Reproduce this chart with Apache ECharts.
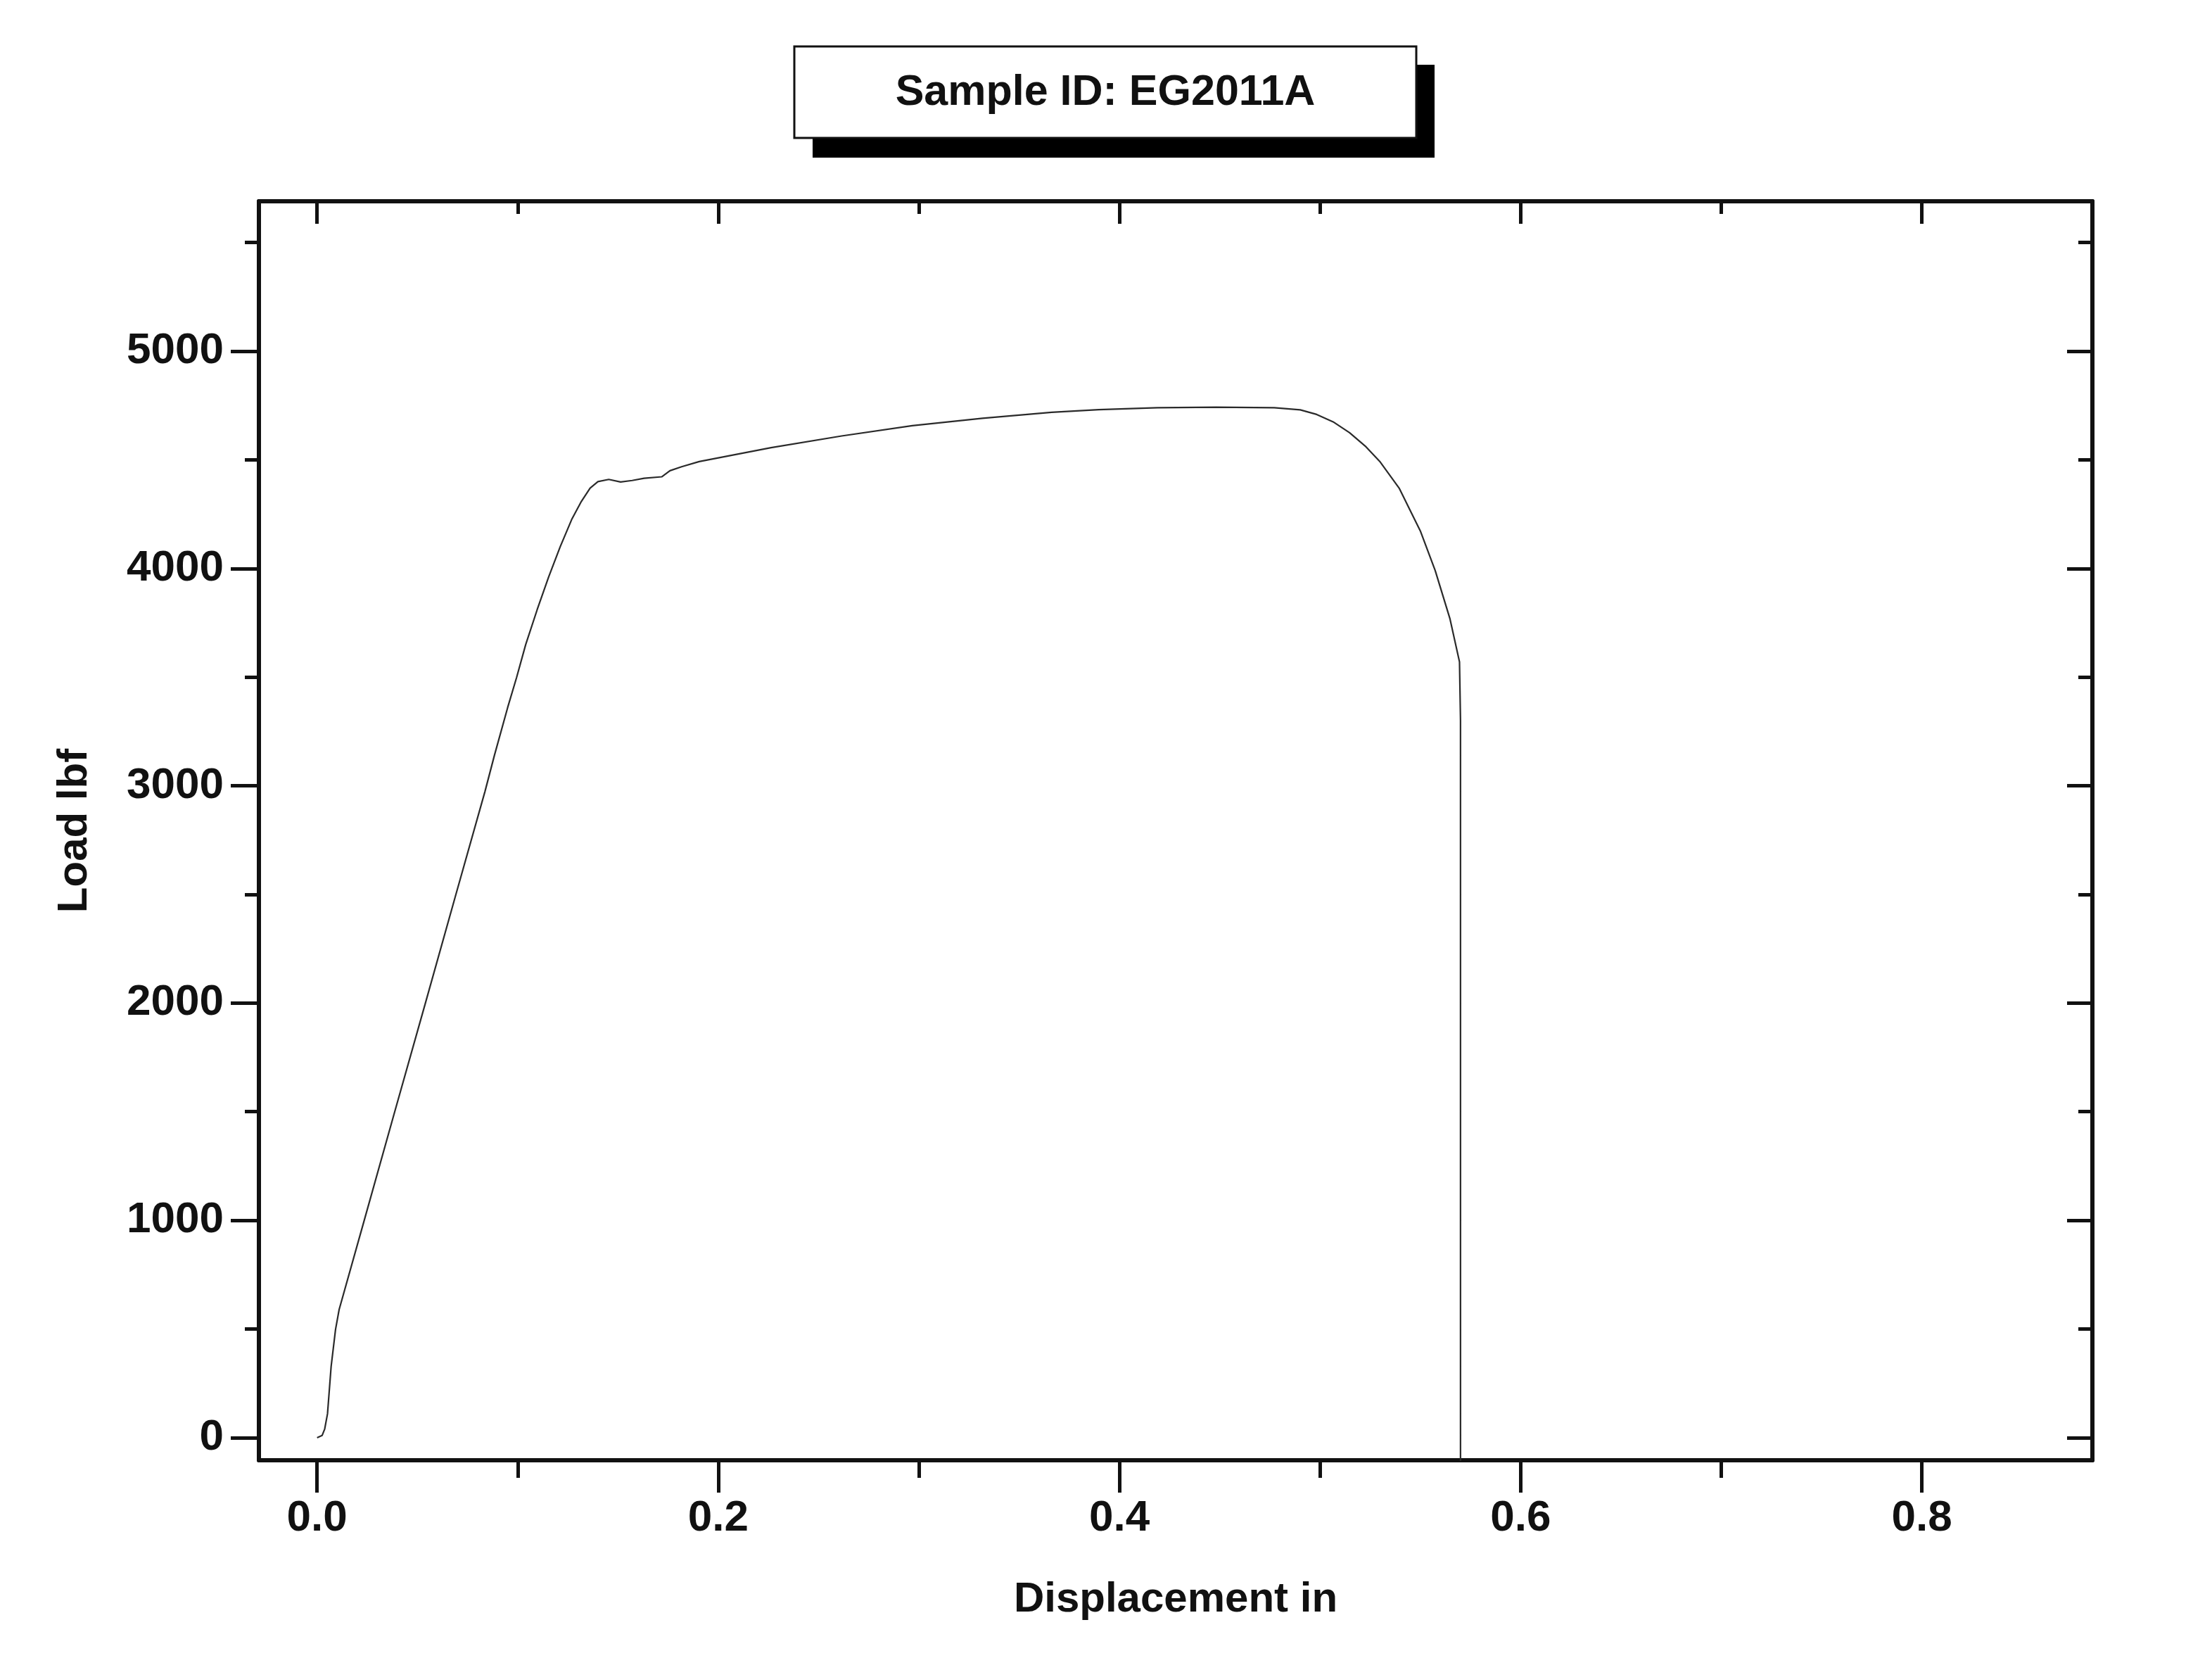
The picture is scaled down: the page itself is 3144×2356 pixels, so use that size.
<!DOCTYPE html>
<html>
<head>
<meta charset="utf-8">
<script src="https://cdn.jsdelivr.net/npm/echarts@6/dist/echarts.min.js"></script>
<style>
  html, body { margin: 0; padding: 0; background: #ffffff; }
  #chart { width: 3144px; height: 2356px; }
</style>
</head>
<body>
<div id="chart"></div>
<script>
// ---- data ----
const titleText = 'Sample ID: EG2011A';
const xName = 'Displacement in';
const yName = 'Load lbf';

const displacement = [
  0.0000, 0.0025, 0.0038, 0.0052, 0.0070, 0.0092, 0.0110, 0.0235, 0.0387, 0.0540,
  0.0692, 0.0837, 0.0884, 0.0950, 0.0995, 0.1040, 0.1097, 0.1154,
  0.1212, 0.1269, 0.1315, 0.1361, 0.1400, 0.1454, 0.1513, 0.1571, 0.1630, 0.1718,
  0.1759, 0.1817, 0.1905, 0.2263, 0.2615, 0.2967, 0.3317, 0.3662, 0.3896, 0.4189,
  0.4481, 0.4772, 0.4901, 0.4983, 0.5065, 0.5147, 0.5229, 0.5300, 0.5394, 0.5501,
  0.5574, 0.5647, 0.5695, 0.5700, 0.5700
];
const load = [
  0, 10, 40, 110, 327, 498, 590, 1000, 1500, 2000,
  2500, 2974, 3140, 3360, 3500, 3650, 3810, 3960,
  4100, 4225, 4305, 4370, 4400, 4410, 4398, 4405, 4415, 4422,
  4450, 4468, 4492, 4556, 4610, 4657, 4691, 4719, 4731, 4740,
  4742, 4740, 4730, 4709, 4675, 4625, 4560, 4490, 4370, 4170,
  3990, 3770, 3570, 3300, -200
];

const xMajorTicks = [0, 0.2, 0.4, 0.6, 0.8];
const xMinorTicks = [0.1, 0.3, 0.5, 0.7];
const yMajorTicks = [0, 1000, 2000, 3000, 4000, 5000];
const yMinorTicks = [500, 1500, 2500, 3500, 4500, 5500];

const xMin = -0.029, xMax = 0.885;
const yMin = -104, yMax = 5690;

// ---- chart ----
const FONT = '"Liberation Sans", Arial, Helvetica, sans-serif';
const INK = '#111111';
const chart = echarts.init(document.getElementById('chart'), null, { renderer: 'canvas' });

function axisBase(min, max, opts) {
  return Object.assign({
    type: 'value', min: min, max: max, gridIndex: 0,
    splitLine: { show: false },
    axisLine: { show: false, onZero: false },
    axisLabel: { show: false },
    axisTick: { show: false }
  }, opts);
}
const xAxisDef = o => axisBase(xMin, xMax, o);
const yAxisDef = o => axisBase(yMin, yMax, o);
const axisLineStyle = { color: INK, width: 6 };
const tickStyle = { color: INK, width: 5 };

const option = {
  backgroundColor: '#ffffff',
  animation: false,
  grid: { left: 368, right: 170, top: 286, bottom: 281, containLabel: false },
  graphic: [
    { type: 'rect', shape: { x: 1155, y: 92, width: 884, height: 132 }, style: { fill: '#000000' }, z: 100 },
    { type: 'rect', shape: { x: 1129, y: 66, width: 884, height: 130 }, style: { fill: '#ffffff', stroke: INK, lineWidth: 3 }, z: 101 },
    { type: 'text', x: 1571, y: 132, z: 102,
      style: { text: titleText, fill: INK, font: 'bold 61px ' + FONT, align: 'center', verticalAlign: 'middle' } }
  ],
  xAxis: [
    xAxisDef({
      position: 'bottom',
      axisLine: { show: true, onZero: false, lineStyle: axisLineStyle },
      axisTick: { show: true, inside: false, length: 46, customValues: xMajorTicks, lineStyle: tickStyle },
      axisLabel: { show: true, customValues: xMajorTicks, margin: 52, color: INK,
        fontFamily: FONT, fontWeight: 'bold', fontSize: 62,
        formatter: v => Number(v).toFixed(1) },
      name: xName, nameLocation: 'middle', nameGap: 168,
      nameTextStyle: { color: INK, fontFamily: FONT, fontWeight: 'bold', fontSize: 60 }
    }),
    xAxisDef({
      position: 'bottom',
      axisTick: { show: true, inside: false, length: 25, customValues: xMinorTicks, lineStyle: tickStyle }
    }),
    xAxisDef({
      position: 'top',
      axisLine: { show: true, onZero: false, lineStyle: axisLineStyle },
      axisTick: { show: true, inside: true, length: 32, customValues: xMajorTicks, lineStyle: tickStyle }
    }),
    xAxisDef({
      position: 'top',
      axisTick: { show: true, inside: true, length: 18, customValues: xMinorTicks, lineStyle: tickStyle }
    })
  ],
  yAxis: [
    yAxisDef({
      position: 'left',
      axisLine: { show: true, onZero: false, lineStyle: axisLineStyle },
      axisTick: { show: true, inside: false, length: 40, customValues: yMajorTicks, lineStyle: tickStyle },
      axisLabel: { show: true, customValues: yMajorTicks, margin: 50, color: INK,
        fontFamily: FONT, fontWeight: 'bold', fontSize: 62,
        formatter: v => String(Math.round(v)) },
      name: yName, nameLocation: 'middle', nameGap: 232, nameRotate: 90,
      nameTextStyle: { color: INK, fontFamily: FONT, fontWeight: 'bold', fontSize: 60 }
    }),
    yAxisDef({
      position: 'left',
      axisTick: { show: true, inside: false, length: 20, customValues: yMinorTicks, lineStyle: tickStyle }
    }),
    yAxisDef({
      position: 'right',
      axisLine: { show: true, onZero: false, lineStyle: axisLineStyle },
      axisTick: { show: true, inside: true, length: 36, customValues: yMajorTicks, lineStyle: tickStyle }
    }),
    yAxisDef({
      position: 'right',
      axisTick: { show: true, inside: true, length: 20, customValues: yMinorTicks, lineStyle: tickStyle }
    })
  ],
  series: [{
    type: 'line',
    xAxisIndex: 0, yAxisIndex: 0,
    data: displacement.map((x, i) => [x, load[i]]),
    showSymbol: false,
    symbol: 'none',
    smooth: false,
    clip: true,
    lineStyle: { color: '#2a2a2a', width: 2.2 }
  }]
};
chart.setOption(option);
</script>
</body>
</html>
